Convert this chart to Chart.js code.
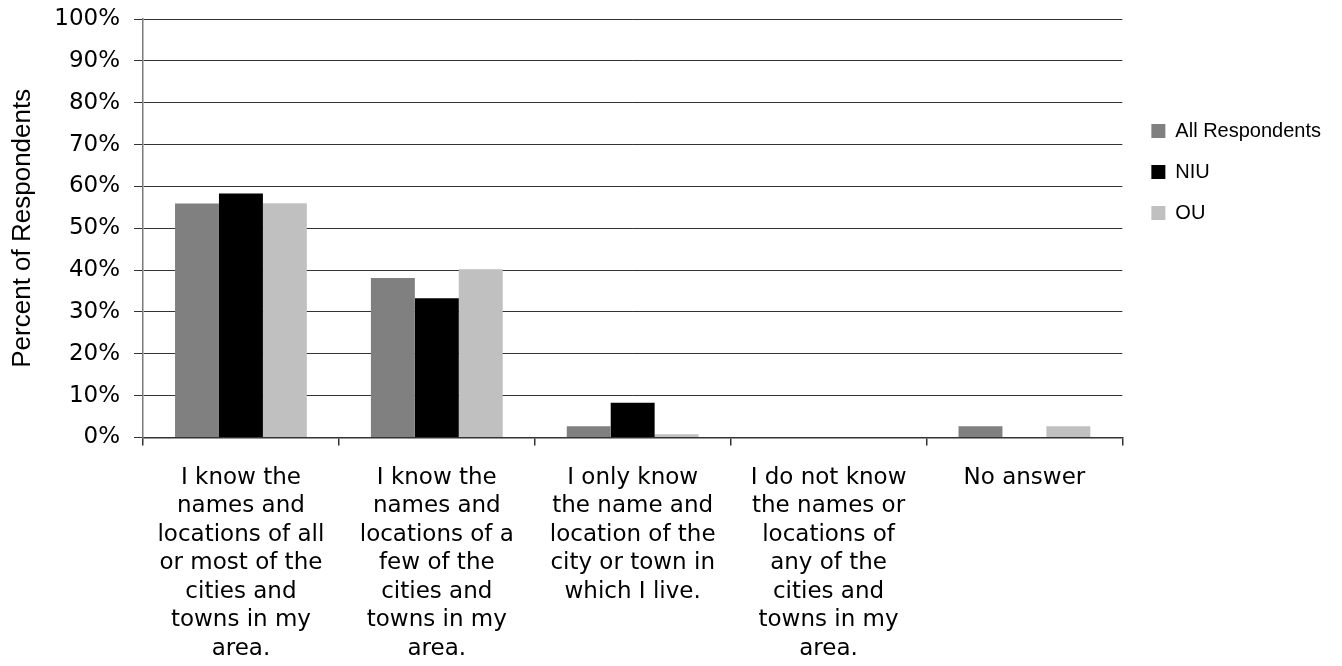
<!DOCTYPE html>
<html>
<head>
<meta charset="utf-8">
<title>Knowledge of local cities and towns</title>
<script src="https://cdn.jsdelivr.net/npm/chart.js@4.4.1/dist/chart.umd.min.js"></script>
<style>
    html, body { margin: 0; padding: 0; background: #fff; }
    #wrap { position: relative; width: 1342px; height: 666px; }
</style>
</head>
<body>
<div id="wrap"><canvas id="chart"></canvas></div>
<script>
// Survey answers (x categories), one array of lines per label
const categories = [
    ['I know the', 'names and', 'locations of all', 'or most of the', 'cities and', 'towns in my', 'area.'],
    ['I know the', 'names and', 'locations of a', 'few of the', 'cities and', 'towns in my', 'area.'],
    ['I only know', 'the name and', 'location of the', 'city or town in', 'which I live.'],
    ['I do not know', 'the names or', 'locations of', 'any of the', 'cities and', 'towns in my', 'area.'],
    ['No answer']
];

// Percent of respondents per answer
const allRespondents = [55.9, 38.1, 2.7, 0, 2.7];
const niu = [58.3, 33.3, 8.3, 0, 0];
const ou = [56, 40.2, 0.8, 0, 2.7];

const seriesNames = ['All Respondents', 'NIU', 'OU'];
const seriesColors = ['#808080', '#000000', '#c0c0c0'];

const yTickStep = 10;
const yMax = 100;

const lineColor = '#333333';
const frameColor = '#7a7a7a';

// nudges the legend column down and away from the plot border
const legendShift = {
    id: 'legendShift',
    afterLayout(chart) {
        const lg = chart.legend;
        lg.left += 8;
        lg.right += 8;
        lg.top = chart.chartArea.top + 81;
    }
};

document.addEventListener('DOMContentLoaded', () => {
    const ctx = document.getElementById('chart').getContext('2d');
    const values = [allRespondents, niu, ou];

    new Chart(ctx, {
        type: 'bar',
        data: {
            labels: categories,
            datasets: seriesNames.map((name, i) => ({
                label: name,
                data: values[i],
                backgroundColor: seriesColors[i],
                borderWidth: 0,
                barPercentage: 1,
                categoryPercentage: 0.673
            }))
        },
        options: {
            responsive: true,
            maintainAspectRatio: false,
            animation: false,
            // the x labels get their padding twice in the fit, so the bottom pad goes negative
            layout: { padding: { top: 18, right: 19, bottom: -15, left: 0 } },
            plugins: {
                tooltip: { enabled: false },
                legend: {
                    position: 'right',
                    align: 'start',
                    labels: {
                        boxWidth: 14,
                        boxHeight: 14,
                        padding: 21,
                        color: '#000',
                        font: { family: 'Liberation Sans', size: 20 }
                    }
                }
            },
            scales: {
                x: {
                    grid: {
                        offset: true,
                        drawOnChartArea: true,
                        color: c => c.index === categories.length ? frameColor : 'transparent',
                        tickColor: lineColor,
                        tickLength: 8,
                        lineWidth: 1.5
                    },
                    border: { display: true, color: lineColor, width: 1.5 },
                    ticks: {
                        color: '#000',
                        maxRotation: 0,
                        autoSkip: false,
                        padding: 18,
                        font: { family: 'DejaVu Sans', size: 23, lineHeight: '28.5px' }
                    }
                },
                y: {
                    min: 0,
                    max: yMax,
                    afterFit: scale => { scale.width = 143; },
                    grid: {
                        color: lineColor,
                        tickLength: 9,
                        lineWidth: 1
                    },
                    border: { display: true, color: frameColor, width: 1.5 },
                    ticks: {
                        stepSize: yTickStep,
                        color: '#000',
                        padding: 14,
                        // short line box keeps the top label from pushing the plot down
                        font: { family: 'DejaVu Sans', size: 23, lineHeight: '10px' },
                        callback: v => v + '%'
                    },
                    title: {
                        display: true,
                        text: 'Percent of Respondents',
                        color: '#000',
                        padding: { top: 7, bottom: 0 },
                        font: { family: 'Liberation Sans', size: 26 }
                    }
                }
            }
        },
        plugins: [legendShift]
    });
});
</script>
</body>
</html>
